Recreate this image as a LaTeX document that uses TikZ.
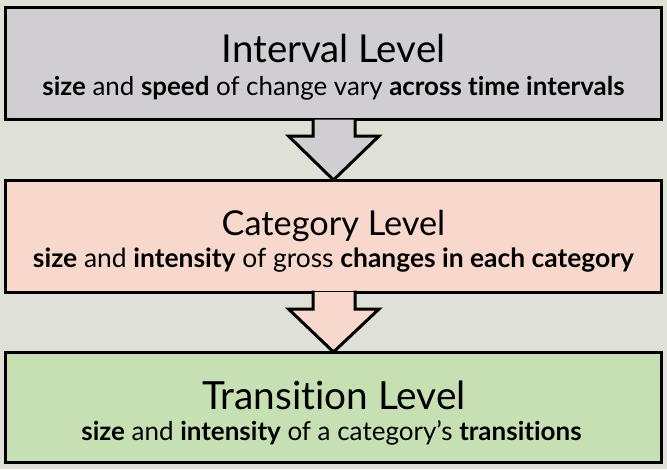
\documentclass[tikz,border=0pt]{standalone}
\usepackage{fontspec}
\setmainfont{Lato}[Ligatures={NoCommon,NoRequired,NoContextual,NoRare,NoDiscretionary}]
\usetikzlibrary{calc}
\definecolor{bg}{HTML}{DFE0D6}
\definecolor{grayfill}{HTML}{D0CED1}
\definecolor{pinkfill}{HTML}{F8D8CC}
\definecolor{greenfill}{HTML}{C6E0B4}
\tikzset{
  levelbox/.style={draw=black, line width=3pt, minimum width=656pt, inner sep=0pt, outer sep=0pt},
  titletext/.style={anchor=base, inner sep=0pt},
  subtext/.style={anchor=base, inner sep=0pt},
  arrowline/.style={draw=black, line width=3pt, line join=miter}
}
\begin{document}
\begin{tikzpicture}[x=1pt, y=-1pt]
\fill[bg] (0,0) rectangle (667,469);
\useasboundingbox (0,0) rectangle (667,469);
% boxes
\node[levelbox, fill=grayfill, minimum height=112pt] (b1) at (333.5,63.5) {};
\node[levelbox, fill=pinkfill, minimum height=112pt] (b2) at (333.5,236) {};
\node[levelbox, fill=greenfill, minimum height=110pt] (b3) at (333.5,407) {};
% arrow 1
\coordinate (a1l) at ($(b1.south)+(-20.5,0)$);
\coordinate (a1r) at ($(b1.south)+(21.5,0)$);
\coordinate (a1tip) at (b2.north);
\fill[grayfill] (a1l) -- ++(0,16.5) -- ++(-24.5,0) -- (a1tip) -- ($(a1r)+(24,16.5)$) -- ($(a1r)+(0,16.5)$) -- (a1r) -- cycle;
\draw[arrowline] ($(a1l)+(0,-1.5)$) -- ++(0,18) -- ++(-24.5,0) -- (a1tip) -- ($(a1r)+(24,16.5)$) -- ($(a1r)+(0,16.5)$) -- ($(a1r)+(0,-1.5)$);
% arrow 2
\coordinate (a2l) at ($(b2.south)+(-20.5,0)$);
\coordinate (a2r) at ($(b2.south)+(21.5,0)$);
\coordinate (a2tip) at (b3.north);
\fill[pinkfill] (a2l) -- ++(0,17) -- ++(-24.5,0) -- (a2tip) -- ($(a2r)+(24,17)$) -- ($(a2r)+(0,17)$) -- (a2r) -- cycle;
\draw[arrowline] ($(a2l)+(0,-1.5)$) -- ++(0,18.5) -- ++(-24.5,0) -- (a2tip) -- ($(a2r)+(24,17)$) -- ($(a2r)+(0,17)$) -- ($(a2r)+(0,-1.5)$);
% texts
\node[titletext, font=\fontsize{38.4}{42}\selectfont] (t1) at (333.5,62) {Interval Level};
\node[subtext, font=\fontsize{25.9}{28}\selectfont] (s1) at (333.5,95) {\textbf{size} and \textbf{speed} of change vary \textbf{across time intervals}};
\node[titletext, font=\fontsize{34.3}{38}\selectfont] (t2) at (333.5,235) {Category Level};
\node[subtext, font=\fontsize{26.4}{28}\selectfont] (s2) at (333.5,267) {\textbf{size} and \textbf{intensity} of gross \textbf{changes in each category}};
\node[titletext, font=\fontsize{38.8}{42}\selectfont] (t3) at (334,409) {Transition Level};
\node[subtext, font=\fontsize{26}{28}\selectfont] (s3) at (331.5,440) {\textbf{size} and \textbf{intensity} of a category’s \textbf{transitions}};
\end{tikzpicture}
\end{document}
